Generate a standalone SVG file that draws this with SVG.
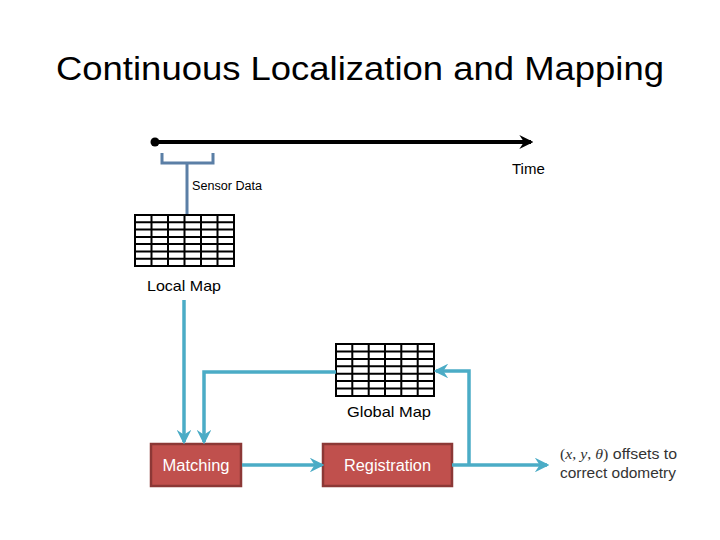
<svg xmlns="http://www.w3.org/2000/svg" width="720" height="540" viewBox="0 0 720 540">
<defs>
<style>
.t{font-family:"Liberation Sans",Arial,sans-serif;}
.lbl{font-family:"Liberation Sans",Arial,sans-serif;font-size:15px;fill:#000;}
.box{fill:#c0504d;stroke:#8c3836;stroke-width:2.5;}
.boxt{font-family:"Liberation Sans",Arial,sans-serif;font-size:16px;fill:#fff;text-anchor:middle;}
.con{fill:none;stroke:#4bacc6;stroke-width:3.5;}
.grid{fill:#fff;stroke:#000;stroke-width:2;}
.out{font-family:"Liberation Sans",Arial,sans-serif;font-size:14px;fill:#333;}
.m{font-family:"Liberation Serif",serif;}
</style>
<marker id="ab" viewBox="0 0 12 12" refX="10" refY="6" markerWidth="4.2" markerHeight="4.2" orient="auto" markerUnits="strokeWidth">
<path d="M0,0 L12,6 L0,12 L4,6 Z" fill="#4bacc6"/>
</marker>
<marker id="ak" viewBox="0 0 12 12" refX="10" refY="6" markerWidth="3.5" markerHeight="3.5" orient="auto" markerUnits="strokeWidth">
<path d="M0,0 L12,6 L0,12 L4,6 Z" fill="#000"/>
</marker>
</defs>
<rect width="720" height="540" fill="#fff"/>
<text class="t" x="360" y="80" font-size="34" text-anchor="middle" textLength="608" lengthAdjust="spacingAndGlyphs">Continuous Localization and Mapping</text>

<g id="timeline">
<line x1="155" y1="142" x2="531" y2="142" stroke="#000" stroke-width="4" marker-end="url(#ak)"/>
<circle cx="155" cy="142" r="4.5" fill="#000"/>
<text class="lbl" x="512" y="174">Time</text>
</g>

<g id="sensor-data">
<path d="M162,153 V163 H213 V153" fill="none" stroke="#5b7fa6" stroke-width="3"/>
<line x1="187" y1="163" x2="187" y2="214" stroke="#5b7fa6" stroke-width="3"/>
<text x="192" y="190" font-family="'Liberation Sans',Arial,sans-serif" font-size="12.5" fill="#000" textLength="70" lengthAdjust="spacingAndGlyphs">Sensor Data</text>
</g>

<g id="local-map">
<rect class="grid" x="135" y="215" width="99" height="51"/>
<path d="M151.5,215V266M168,215V266M184.5,215V266M201,215V266M217.5,215V266M135,222.3H234M135,229.6H234M135,236.9H234M135,244.1H234M135,251.4H234M135,258.7H234" stroke="#000" stroke-width="2" fill="none"/>
<text class="lbl" x="184" y="291" text-anchor="middle" textLength="74" lengthAdjust="spacingAndGlyphs">Local Map</text>
</g>

<g id="global-map">
<rect class="grid" x="336" y="344" width="98" height="52"/>
<path d="M352.3,344V396M368.7,344V396M385,344V396M401.3,344V396M417.7,344V396M336,351.4H434M336,358.9H434M336,366.3H434M336,373.7H434M336,381.1H434M336,388.6H434" stroke="#000" stroke-width="2" fill="none"/>
<text class="lbl" x="389" y="417" text-anchor="middle" textLength="84" lengthAdjust="spacingAndGlyphs">Global Map</text>
</g>

<g id="matching">
<rect class="box" x="151" y="444" width="90" height="42"/>
<text class="boxt" x="196" y="471" textLength="67" lengthAdjust="spacingAndGlyphs">Matching</text>
</g>

<g id="registration">
<rect class="box" x="323" y="444" width="129" height="42"/>
<text class="boxt" x="387.5" y="471" textLength="87" lengthAdjust="spacingAndGlyphs">Registration</text>
</g>

<g id="output">
<text class="out" x="560" y="459" textLength="117" lengthAdjust="spacingAndGlyphs"><tspan class="m">(</tspan><tspan class="m" font-style="italic">x</tspan><tspan class="m">, </tspan><tspan class="m" font-style="italic">y</tspan><tspan class="m">, </tspan><tspan class="m" font-style="italic">θ</tspan><tspan class="m">)</tspan> offsets to</text>
<text class="out" x="560" y="478" textLength="116" lengthAdjust="spacingAndGlyphs">correct odometry</text>
</g>

<g id="connectors">
<line class="con" x1="184" y1="300" x2="184" y2="442" marker-end="url(#ab)"/>
<path class="con" d="M336,372 H204 V442" marker-end="url(#ab)"/>
<line class="con" x1="242" y1="465" x2="322" y2="465" marker-end="url(#ab)"/>
<line class="con" x1="452" y1="465" x2="547" y2="465" marker-end="url(#ab)"/>
<path class="con" d="M469,465 V371 H436" marker-end="url(#ab)"/>
</g>
</svg>
